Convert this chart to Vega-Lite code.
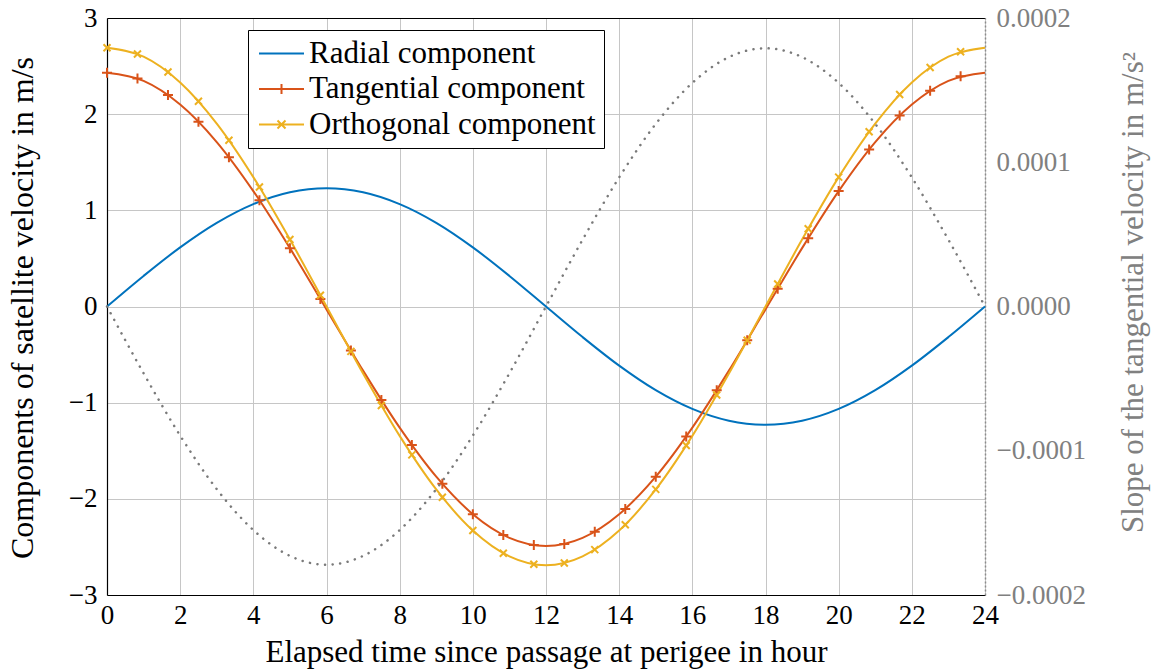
{
  "$schema": "https://vega.github.io/schema/vega-lite/v6.json",
  "width": 878,
  "height": 577,
  "autosize": {"type": "none"},
  "padding": {"left": 107, "top": 18, "right": 168, "bottom": 75},
  "background": "white",
  "config": {
    "view": {"stroke": null},
    "font": "Liberation Serif",
    "axis": {
      "labelFont": "Liberation Serif",
      "labelFontSize": 27,
      "labelColor": "black",
      "titleFont": "Liberation Serif",
      "titleFontSize": 31,
      "titleFontWeight": "normal",
      "titleColor": "black",
      "domainColor": "black",
      "domainWidth": 1.2,
      "gridColor": "#c6c6c6",
      "gridWidth": 1,
      "ticks": false
    },
    "legend": {
      "labelFont": "Liberation Serif",
      "labelFontSize": 31,
      "labelColor": "black",
      "labelLimit": 500,
      "strokeWidth": 1
    }
  },
  "datasets": {
    "curves": [
      {"hour": 0, "value": 0, "series": "Radial component"},
      {"hour": 1, "value": 0.318, "series": "Radial component"},
      {"hour": 2, "value": 0.615, "series": "Radial component"},
      {"hour": 3, "value": 0.870, "series": "Radial component"},
      {"hour": 4, "value": 1.065, "series": "Radial component"},
      {"hour": 5, "value": 1.188, "series": "Radial component"},
      {"hour": 6, "value": 1.230, "series": "Radial component"},
      {"hour": 7, "value": 1.188, "series": "Radial component"},
      {"hour": 8, "value": 1.065, "series": "Radial component"},
      {"hour": 9, "value": 0.870, "series": "Radial component"},
      {"hour": 10, "value": 0.615, "series": "Radial component"},
      {"hour": 11, "value": 0.318, "series": "Radial component"},
      {"hour": 12, "value": 0, "series": "Radial component"},
      {"hour": 13, "value": -0.318, "series": "Radial component"},
      {"hour": 14, "value": -0.615, "series": "Radial component"},
      {"hour": 15, "value": -0.870, "series": "Radial component"},
      {"hour": 16, "value": -1.065, "series": "Radial component"},
      {"hour": 17, "value": -1.188, "series": "Radial component"},
      {"hour": 18, "value": -1.230, "series": "Radial component"},
      {"hour": 19, "value": -1.188, "series": "Radial component"},
      {"hour": 20, "value": -1.065, "series": "Radial component"},
      {"hour": 21, "value": -0.870, "series": "Radial component"},
      {"hour": 22, "value": -0.615, "series": "Radial component"},
      {"hour": 23, "value": -0.318, "series": "Radial component"},
      {"hour": 24, "value": 0, "series": "Radial component"},
      {"hour": 0, "value": 2.430, "series": "Tangential component"},
      {"hour": 1, "value": 2.346, "series": "Tangential component"},
      {"hour": 2, "value": 2.100, "series": "Tangential component"},
      {"hour": 3, "value": 1.710, "series": "Tangential component"},
      {"hour": 4, "value": 1.200, "series": "Tangential component"},
      {"hour": 5, "value": 0.607, "series": "Tangential component"},
      {"hour": 6, "value": -0.030, "series": "Tangential component"},
      {"hour": 7, "value": -0.667, "series": "Tangential component"},
      {"hour": 8, "value": -1.260, "series": "Tangential component"},
      {"hour": 9, "value": -1.770, "series": "Tangential component"},
      {"hour": 10, "value": -2.160, "series": "Tangential component"},
      {"hour": 11, "value": -2.406, "series": "Tangential component"},
      {"hour": 12, "value": -2.490, "series": "Tangential component"},
      {"hour": 13, "value": -2.406, "series": "Tangential component"},
      {"hour": 14, "value": -2.160, "series": "Tangential component"},
      {"hour": 15, "value": -1.770, "series": "Tangential component"},
      {"hour": 16, "value": -1.260, "series": "Tangential component"},
      {"hour": 17, "value": -0.667, "series": "Tangential component"},
      {"hour": 18, "value": -0.030, "series": "Tangential component"},
      {"hour": 19, "value": 0.607, "series": "Tangential component"},
      {"hour": 20, "value": 1.200, "series": "Tangential component"},
      {"hour": 21, "value": 1.710, "series": "Tangential component"},
      {"hour": 22, "value": 2.100, "series": "Tangential component"},
      {"hour": 23, "value": 2.346, "series": "Tangential component"},
      {"hour": 24, "value": 2.430, "series": "Tangential component"},
      {"hour": 0, "value": 2.690, "series": "Orthogonal component"},
      {"hour": 1, "value": 2.598, "series": "Orthogonal component"},
      {"hour": 2, "value": 2.330, "series": "Orthogonal component"},
      {"hour": 3, "value": 1.902, "series": "Orthogonal component"},
      {"hour": 4, "value": 1.345, "series": "Orthogonal component"},
      {"hour": 5, "value": 0.696, "series": "Orthogonal component"},
      {"hour": 6, "value": 0, "series": "Orthogonal component"},
      {"hour": 7, "value": -0.696, "series": "Orthogonal component"},
      {"hour": 8, "value": -1.345, "series": "Orthogonal component"},
      {"hour": 9, "value": -1.902, "series": "Orthogonal component"},
      {"hour": 10, "value": -2.330, "series": "Orthogonal component"},
      {"hour": 11, "value": -2.598, "series": "Orthogonal component"},
      {"hour": 12, "value": -2.690, "series": "Orthogonal component"},
      {"hour": 13, "value": -2.598, "series": "Orthogonal component"},
      {"hour": 14, "value": -2.330, "series": "Orthogonal component"},
      {"hour": 15, "value": -1.902, "series": "Orthogonal component"},
      {"hour": 16, "value": -1.345, "series": "Orthogonal component"},
      {"hour": 17, "value": -0.696, "series": "Orthogonal component"},
      {"hour": 18, "value": 0, "series": "Orthogonal component"},
      {"hour": 19, "value": 0.696, "series": "Orthogonal component"},
      {"hour": 20, "value": 1.345, "series": "Orthogonal component"},
      {"hour": 21, "value": 1.902, "series": "Orthogonal component"},
      {"hour": 22, "value": 2.330, "series": "Orthogonal component"},
      {"hour": 23, "value": 2.598, "series": "Orthogonal component"},
      {"hour": 24, "value": 2.690, "series": "Orthogonal component"}
    ],
    "slope": [
      {"hour": 0, "slope": 0},
      {"hour": 1, "slope": -0.0000463},
      {"hour": 2, "slope": -0.0000895},
      {"hour": 3, "slope": -0.0001266},
      {"hour": 4, "slope": -0.000155},
      {"hour": 5, "slope": -0.0001729},
      {"hour": 6, "slope": -0.000179},
      {"hour": 7, "slope": -0.0001729},
      {"hour": 8, "slope": -0.000155},
      {"hour": 9, "slope": -0.0001266},
      {"hour": 10, "slope": -0.0000895},
      {"hour": 11, "slope": -0.0000463},
      {"hour": 12, "slope": 0},
      {"hour": 13, "slope": 0.0000463},
      {"hour": 14, "slope": 0.0000895},
      {"hour": 15, "slope": 0.0001266},
      {"hour": 16, "slope": 0.000155},
      {"hour": 17, "slope": 0.0001729},
      {"hour": 18, "slope": 0.000179},
      {"hour": 19, "slope": 0.0001729},
      {"hour": 20, "slope": 0.000155},
      {"hour": 21, "slope": 0.0001266},
      {"hour": 22, "slope": 0.0000895},
      {"hour": 23, "slope": 0.0000463},
      {"hour": 24, "slope": 0}
    ],
    "markers": [
      {"hour": 0, "value": 2.430, "series": "Tangential component"},
      {"hour": 0.833, "value": 2.372, "series": "Tangential component"},
      {"hour": 1.667, "value": 2.200, "series": "Tangential component"},
      {"hour": 2.5, "value": 1.922, "series": "Tangential component"},
      {"hour": 3.333, "value": 1.551, "series": "Tangential component"},
      {"hour": 4.167, "value": 1.106, "series": "Tangential component"},
      {"hour": 5, "value": 0.607, "series": "Tangential component"},
      {"hour": 5.833, "value": 0.077, "series": "Tangential component"},
      {"hour": 6.667, "value": -0.457, "series": "Tangential component"},
      {"hour": 7.5, "value": -0.971, "series": "Tangential component"},
      {"hour": 8.333, "value": -1.441, "series": "Tangential component"},
      {"hour": 9.167, "value": -1.844, "series": "Tangential component"},
      {"hour": 10, "value": -2.160, "series": "Tangential component"},
      {"hour": 10.833, "value": -2.376, "series": "Tangential component"},
      {"hour": 11.667, "value": -2.481, "series": "Tangential component"},
      {"hour": 12.5, "value": -2.469, "series": "Tangential component"},
      {"hour": 13.333, "value": -2.342, "series": "Tangential component"},
      {"hour": 14.167, "value": -2.105, "series": "Tangential component"},
      {"hour": 15, "value": -1.770, "series": "Tangential component"},
      {"hour": 15.833, "value": -1.352, "series": "Tangential component"},
      {"hour": 16.667, "value": -0.871, "series": "Tangential component"},
      {"hour": 17.5, "value": -0.351, "series": "Tangential component"},
      {"hour": 18.333, "value": 0.184, "series": "Tangential component"},
      {"hour": 19.167, "value": 0.710, "series": "Tangential component"},
      {"hour": 20, "value": 1.200, "series": "Tangential component"},
      {"hour": 20.833, "value": 1.632, "series": "Tangential component"},
      {"hour": 21.667, "value": 1.985, "series": "Tangential component"},
      {"hour": 22.5, "value": 2.243, "series": "Tangential component"},
      {"hour": 23.333, "value": 2.393, "series": "Tangential component"},
      {"hour": 0, "value": 2.690, "series": "Orthogonal component"},
      {"hour": 0.833, "value": 2.626, "series": "Orthogonal component"},
      {"hour": 1.667, "value": 2.438, "series": "Orthogonal component"},
      {"hour": 2.5, "value": 2.134, "series": "Orthogonal component"},
      {"hour": 3.333, "value": 1.729, "series": "Orthogonal component"},
      {"hour": 4.167, "value": 1.242, "series": "Orthogonal component"},
      {"hour": 5, "value": 0.696, "series": "Orthogonal component"},
      {"hour": 5.833, "value": 0.117, "series": "Orthogonal component"},
      {"hour": 6.667, "value": -0.467, "series": "Orthogonal component"},
      {"hour": 7.5, "value": -1.029, "series": "Orthogonal component"},
      {"hour": 8.333, "value": -1.543, "series": "Orthogonal component"},
      {"hour": 9.167, "value": -1.983, "series": "Orthogonal component"},
      {"hour": 10, "value": -2.330, "series": "Orthogonal component"},
      {"hour": 10.833, "value": -2.566, "series": "Orthogonal component"},
      {"hour": 11.667, "value": -2.680, "series": "Orthogonal component"},
      {"hour": 12.5, "value": -2.667, "series": "Orthogonal component"},
      {"hour": 13.333, "value": -2.528, "series": "Orthogonal component"},
      {"hour": 14.167, "value": -2.269, "series": "Orthogonal component"},
      {"hour": 15, "value": -1.902, "series": "Orthogonal component"},
      {"hour": 15.833, "value": -1.445, "series": "Orthogonal component"},
      {"hour": 16.667, "value": -0.920, "series": "Orthogonal component"},
      {"hour": 17.5, "value": -0.351, "series": "Orthogonal component"},
      {"hour": 18.333, "value": 0.234, "series": "Orthogonal component"},
      {"hour": 19.167, "value": 0.809, "series": "Orthogonal component"},
      {"hour": 20, "value": 1.345, "series": "Orthogonal component"},
      {"hour": 20.833, "value": 1.817, "series": "Orthogonal component"},
      {"hour": 21.667, "value": 2.204, "series": "Orthogonal component"},
      {"hour": 22.5, "value": 2.485, "series": "Orthogonal component"},
      {"hour": 23.333, "value": 2.649, "series": "Orthogonal component"}
    ]
  },
  "layer": [
    {
      "encoding": {
        "x": {
          "field": "hour", "type": "quantitative",
          "scale": {"domain": [0, 24], "nice": false, "zero": false},
          "axis": {
            "orient": "bottom",
            "values": [0, 2, 4, 6, 8, 10, 12, 14, 16, 18, 20, 22, 24],
            "grid": true,
            "labelPadding": 7,
            "labelFlush": false,
            "title": "Elapsed time since passage at perigee in hour",
            "titleX": 439, "titleY": 66,
            "titleAlign": "center", "titleBaseline": "alphabetic"
          }
        },
        "y": {
          "field": "value", "type": "quantitative",
          "scale": {"domain": [-3, 3], "nice": false},
          "axis": {
            "orient": "left",
            "values": [-3, -2, -1, 0, 1, 2, 3],
            "grid": true,
            "labelPadding": 10,
            "labelFlush": false,
            "title": "Components of satellite velocity in m/s",
            "titleX": -85, "titleY": 289.5,
            "titleAngle": 270,
            "titleFontSize": 32,
            "titleAlign": "center", "titleBaseline": "middle"
          }
        }
      },
      "layer": [
        {
          "data": {"name": "curves"},
          "transform": [{"filter": {"field": "series", "equal": "Radial component"}}],
          "mark": {"type": "line", "strokeWidth": 2, "interpolate": "monotone", "color": "#0072BD"}
        },
        {
          "data": {"name": "curves"},
          "transform": [{"filter": {"field": "series", "equal": "Tangential component"}}],
          "mark": {"type": "line", "strokeWidth": 2, "interpolate": "monotone", "color": "#D95319"}
        },
        {
          "data": {"name": "curves"},
          "transform": [{"filter": {"field": "series", "equal": "Orthogonal component"}}],
          "mark": {"type": "line", "strokeWidth": 2, "interpolate": "monotone", "color": "#EDB120"}
        },
        {
          "data": {"name": "markers"},
          "transform": [{"filter": {"field": "series", "equal": "Tangential component"}}],
          "mark": {"type": "point", "shape": "M-1,0H1M0,-1V1", "size": 100, "filled": false, "strokeWidth": 2, "color": "#D95319", "opacity": 1}
        },
        {
          "data": {"name": "markers"},
          "transform": [{"filter": {"field": "series", "equal": "Orthogonal component"}}],
          "mark": {"type": "point", "shape": "M-1,-1L1,1M-1,1L1,-1", "size": 49, "filled": false, "strokeWidth": 2, "color": "#EDB120", "opacity": 1}
        },
        {
          "data": {"name": "curves"},
          "mark": {"type": "point", "filled": false, "opacity": 0, "strokeWidth": 2},
          "encoding": {
            "color": {
              "field": "series", "type": "nominal",
              "scale": {
                "domain": ["Radial component", "Tangential component", "Orthogonal component"],
                "range": ["#0072BD", "#D95319", "#EDB120"]
              },
              "legend": {
                "title": null,
                "orient": "none",
                "legendX": 141, "legendY": 12,
                "fillColor": "white",
                "strokeColor": "black",
                "cornerRadius": 0,
                "padding": 8,
                "symbolSize": 625,
                "symbolOpacity": 1,
                "symbolStrokeWidth": 2,
                "labelOffset": 22,
                "rowPadding": 3.5
              }
            },
            "shape": {
              "field": "series", "type": "nominal",
              "scale": {
                "domain": ["Radial component", "Tangential component", "Orthogonal component"],
                "range": ["M-1,0H2.6", "M-1,0H2.6M0.8,-0.4V0.4", "M-1,0H2.6M0.48,-0.32L1.12,0.32M0.48,0.32L1.12,-0.32"]
              },
              "legend": {
                "title": null,
                "orient": "none",
                "legendX": 141, "legendY": 12,
                "fillColor": "white",
                "strokeColor": "black",
                "cornerRadius": 0,
                "padding": 8,
                "symbolSize": 625,
                "symbolOpacity": 1,
                "symbolStrokeWidth": 2,
                "labelOffset": 22,
                "rowPadding": 3.5
              }
            }
          }
        }
      ]
    },
    {
      "data": {"name": "slope"},
      "mark": {"type": "line", "color": "#7a7a7a", "strokeWidth": 2.5, "strokeDash": [0.1, 7.5], "strokeCap": "round", "interpolate": "monotone"},
      "encoding": {
        "x": {
          "field": "hour", "type": "quantitative",
          "scale": {"domain": [0, 24], "nice": false, "zero": false},
          "axis": {"orient": "top", "labels": false, "grid": false, "title": null, "domainColor": "black"}
        },
        "y": {
          "field": "slope", "type": "quantitative",
          "scale": {"domain": [-0.0002, 0.0002], "nice": false},
          "axis": {
            "orient": "right",
            "values": [-0.0002, -0.0001, 0, 0.0001, 0.0002],
            "format": ".4f",
            "grid": false,
            "labelColor": "#808080",
            "labelPadding": 11,
            "labelFlush": false,
            "domainColor": "#8c8c8c",
            "domainDash": [2, 2],
            "domainWidth": 1.5,
            "title": "Slope of the tangential velocity in m/s²",
            "titleColor": "#808080",
            "titleX": 148, "titleY": 274,
            "titleAngle": 270,
            "titleAlign": "center", "titleBaseline": "middle"
          }
        }
      }
    }
  ],
  "resolve": {"scale": {"y": "independent"}, "axis": {"x": "independent", "y": "independent"}}
}
